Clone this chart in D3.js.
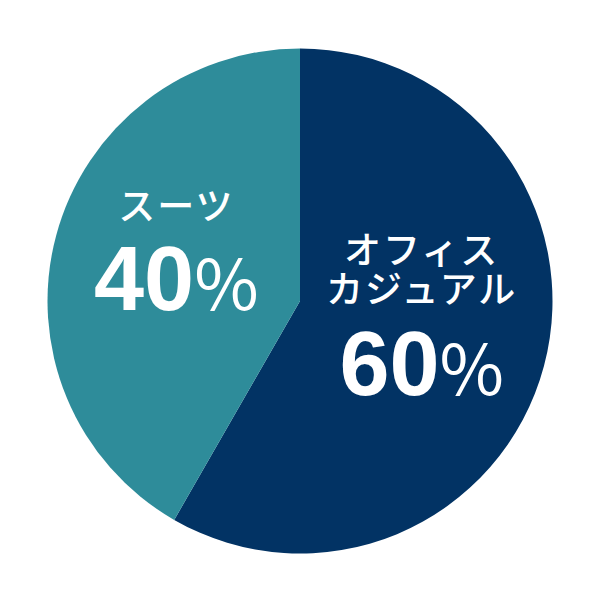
<!DOCTYPE html>
<html>
<head>
<meta charset="utf-8">
<script src="https://cdn.jsdelivr.net/npm/d3@7"></script>
<style>
  body { margin: 0; background: #fff; }
  svg { display: block; }
</style>
</head>
<body>
<svg width="600" height="600"></svg>
<script>
// slice shares, labels as printed on it
let categories = ["オフィスカジュアル", "スーツ"]
let shares = [58.3, 41.7]
let percentLabels = ["60", "40"]
let nameLines = [["オフィス", "カジュアル"], ["スーツ"]]
let colors = ["#023364", "#2e8c9a"]

let width = 600
let height = 600
let cx = 300, cy = 301
let radius = 252.5

let svg = d3.select("svg")

let data = categories.map((c, i) => ({ name: c, value: shares[i], pct: percentLabels[i], lines: nameLines[i], color: colors[i] }))

let pie = d3.pie()
    .value(d => d.value)
    .sort(null)

let arc = d3.arc()
    .innerRadius(0)
    .outerRadius(radius)

let labelArc = d3.arc()
    .innerRadius(128)
    .outerRadius(128)

let g = svg.append("g")
    .attr("transform", `translate(${cx},${cy})`)

let arcs = pie(data)

g.selectAll("path")
    .data(arcs)
    .join("path")
    .attr("d", arc)
    .attr("fill", d => d.data.color)

// label layout per slice: first name baseline, line step, percentage baseline (relative to centroid)
let layout = [
    { dx: -2, name: -70, step: 39, pct: 61 },
    { dx: 0, name: -48, step: 39, pct: 42 }
]

let labels = g.selectAll("g.label")
    .data(arcs)
    .join("g")
    .attr("class", "label")
    .attr("transform", d => {
        let [x, y] = labelArc.centroid(d)
        return `translate(${x},${y})`
    })

labels.each(function(d, i) {
    let lab = d3.select(this)
    let l = layout[i]
    let nameText = lab.append("text")
        .attr("text-anchor", "middle")
        .attr("fill", "#fff")
        .style("font-family", "'Noto Sans CJK JP', sans-serif")
        .style("font-weight", 500)
        .style("font-size", "37px")
        .style("letter-spacing", "2px")
    d.data.lines.forEach((line, j) => {
        nameText.append("tspan")
            .attr("x", l.dx)
            .attr("y", l.name + j * l.step)
            .text(line)
    })
    let t = lab.append("text")
        .attr("x", l.dx)
        .attr("y", l.pct)
        .attr("text-anchor", "middle")
        .attr("fill", "#fff")
    t.append("tspan")
        .style("font-family", "'Liberation Sans', Arial, sans-serif")
        .style("font-weight", 700)
        .style("font-size", "90px")
        .text(d.data.pct)
    t.append("tspan")
        .style("font-family", "'Noto Sans CJK JP', sans-serif")
        .style("font-weight", 400)
        .style("font-size", "70px")
        .text("%")
})
</script>
</body>
</html>
